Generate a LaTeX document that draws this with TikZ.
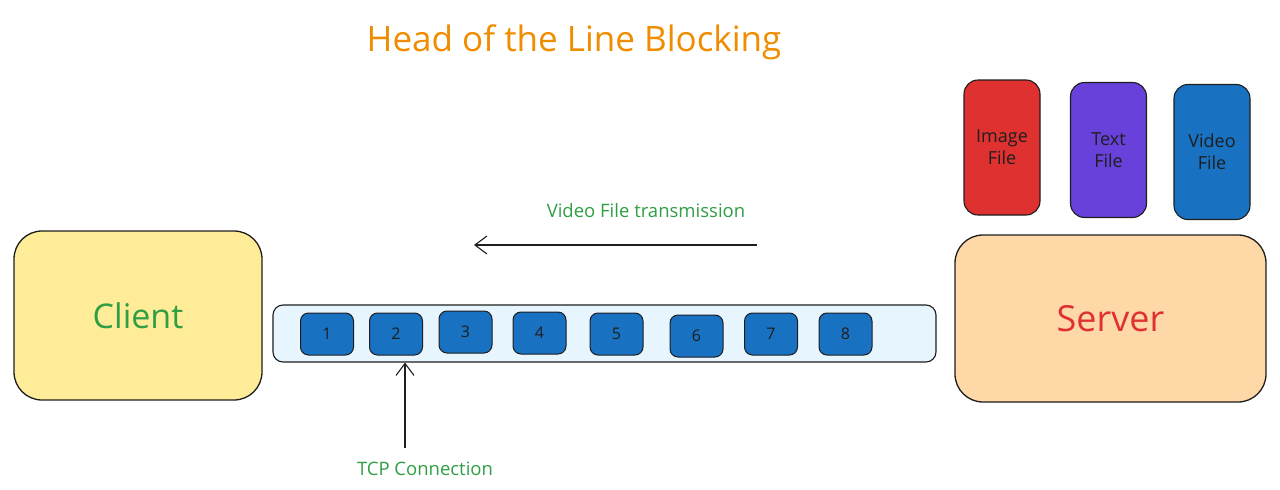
\documentclass[tikz,border=0pt]{standalone}
\usepackage{fontspec}
\setmainfont{Open Sans}
\usetikzlibrary{arrows.meta}
\definecolor{clientfill}{HTML}{FFEC99}
\definecolor{serverfill}{HTML}{FFD8A8}
\definecolor{tubefill}{HTML}{E7F5FF}
\definecolor{pblue}{HTML}{1971C2}
\definecolor{pred}{HTML}{E03131}
\definecolor{ppurple}{HTML}{6741D9}
\definecolor{pgreen}{HTML}{2F9E44}
\definecolor{porange}{HTML}{F08C00}
\definecolor{ink}{HTML}{1E1E1E}
\tikzset{
  bigbox/.style={draw=ink, line width=1.3pt, rounded corners=28pt, inner sep=0pt},
  filebox/.style={draw=ink, line width=1.1pt, rounded corners=14pt, minimum width=76pt, minimum height=135pt, inner sep=0pt, align=center, font=\fontsize{18}{22}\selectfont, text=ink},
  packet/.style={draw=ink, line width=1pt, fill=pblue, rounded corners=8pt, minimum width=53pt, minimum height=42pt, inner sep=0pt, font=\fontsize{16}{18}\selectfont, text=ink},
  glabel/.style={text=pgreen, font=\fontsize{18.5}{20}\selectfont, inner sep=0pt},
  sketcharrow/.style={draw=ink, line width=1.1pt, -{Straight Barb[length=12pt,width=18pt,line width=1.1pt]}},
}
\begin{document}
\begin{tikzpicture}[x=1pt,y=-1pt]
\useasboundingbox (0,0) rectangle (1280,490);
% title
\node[text=porange, font=\fontsize{35}{38}\selectfont, inner sep=0pt] (title) at (574,42) {Head of the Line Blocking};
% client / server
\node[bigbox, fill=clientfill, minimum width=248pt, minimum height=169pt, text=pgreen, font=\fontsize{34}{38}\selectfont] (client) at (138,315.5) {Client};
\node[bigbox, fill=serverfill, minimum width=311pt, minimum height=167pt, text=pred, font=\fontsize{36}{40}\selectfont] (server) at (1110.5,318.5) {Server};
% files
\node[filebox, fill=pred] (img) at (1002,147.5) {Image\\File};
\node[filebox, fill=ppurple] (txt) at (1108.5,150) {Text\\File};
\node[filebox, fill=pblue] (vid) at (1212,152) {Video\\File};
% tube
\node[draw=ink, line width=1.1pt, fill=tubefill, rounded corners=10pt, minimum width=663pt, minimum height=57pt, inner sep=0pt] (tube) at (604.5,333.5) {};
% packets
\node[packet] (p1) at (327,334) {1};
\node[packet] (p2) at (396,334) {2};
\node[packet] (p3) at (465.5,332) {3};
\node[packet] (p4) at (539.5,333) {4};
\node[packet] (p5) at (616.5,334) {5};
\node[packet] (p6) at (696.5,336) {6};
\node[packet] (p7) at (771,334) {7};
\node[packet] (p8) at (845.5,334) {8};
% transmission arrow
\node[glabel] (vlabel) at (646,211) {Video File transmission};
\coordinate (vstart) at (757,245);
\coordinate (vend) at (474,245);
\draw[sketcharrow] (vstart) -- (vend);
% TCP arrow
\node[glabel] (tcplabel) at (425,469) {TCP Connection};
\coordinate (tstart) at (405,448);
\draw[sketcharrow] (tstart) -- (tstart |- tube.south);
\end{tikzpicture}
\end{document}
